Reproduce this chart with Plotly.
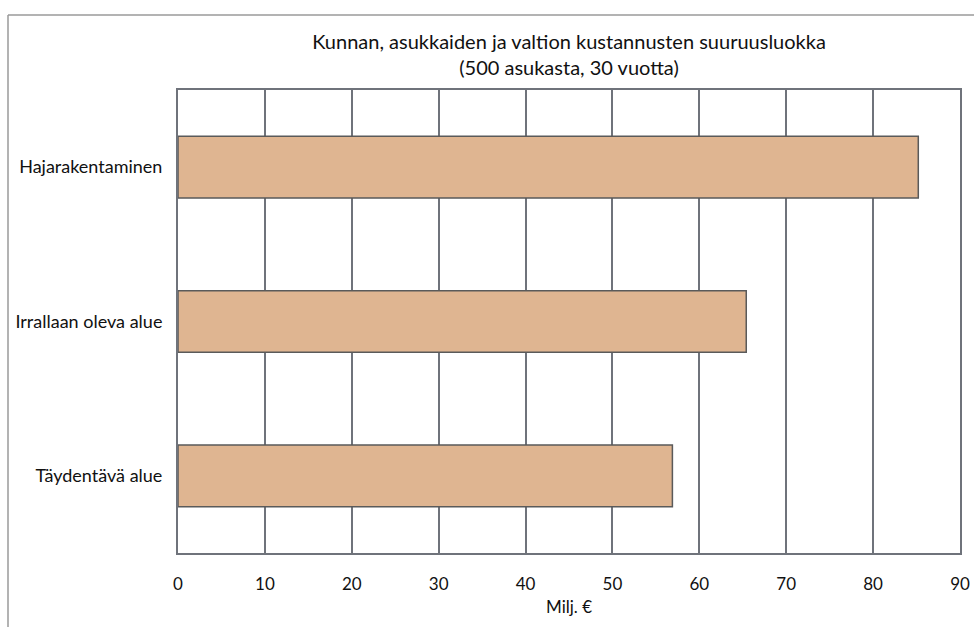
import plotly.graph_objects as go

# Cost categories (top to bottom) and their values, million euros
categories = ["Hajarakentaminen", "Irrallaan oleva alue", "Täydentävä alue"]
costs = [85.2, 65.4, 56.9]
tick_values = [0, 10, 20, 30, 40, 50, 60, 70, 80, 90]

FONT = "Lato, 'Open Sans', sans-serif"
GRID = "#6f737b"

# plot area in pixels
L, R, T, B = 178, 960, 90, 553
W, H = 974, 627
pw, ph = R - L, B - T

fig = go.Figure(
    go.Bar(
        x=costs,
        y=categories,
        orientation="h",
        width=0.4,
        marker=dict(color="#dfb591", line=dict(color="#5a5a5a", width=1.5)),
        hoverinfo="x+y",
    )
)

fig.update_layout(
    width=W,
    height=H,
    margin=dict(l=L, r=W - R, t=T, b=H - B, autoexpand=False),
    paper_bgcolor="white",
    plot_bgcolor="white",
    showlegend=False,
    font=dict(family=FONT, size=17, color="#111111"),
    title=dict(
        text="Kunnan, asukkaiden ja valtion kustannusten suuruusluokka<br>(500 asukasta, 30 vuotta)",
        x=(L + R) / 2 / W,
        xanchor="center",
        y=1 - 49 / H,
        yanchor="middle",
        font=dict(family=FONT, size=20, color="#111111"),
    ),
    xaxis=dict(
        range=[0, 90],
        tickvals=tick_values,
        showgrid=True,
        gridcolor=GRID,
        gridwidth=2,
        zeroline=False,
        showline=True,
        linecolor=GRID,
        linewidth=2,
        mirror=True,
        ticks="",
        ticklabelstandoff=15,
        tickfont=dict(size=17),
        title=dict(text="Milj. €", standoff=8, font=dict(size=17)),
        automargin=False,
        fixedrange=True,
    ),
    yaxis=dict(
        autorange="reversed",
        showgrid=False,
        zeroline=False,
        showline=True,
        linecolor=GRID,
        linewidth=2,
        mirror=True,
        ticks="",
        ticklabelstandoff=10,
        tickfont=dict(size=18),
        automargin=False,
        fixedrange=True,
    ),
    shapes=[
        # page frame: top rule and left rule
        dict(type="line", xref="paper", yref="paper",
             x0=-(L - 8) / pw, x1=(W - L) / pw,
             y0=(B - 15) / ph, y1=(B - 15) / ph,
             line=dict(color="#9a9a9a", width=1.5)),
        dict(type="line", xref="paper", yref="paper",
             x0=-(L - 8) / pw, x1=-(L - 8) / pw,
             y0=(B - H) / ph, y1=(B - 15) / ph,
             line=dict(color="#9a9a9a", width=1.5)),
    ],
)

fig.write_html("out.html")
